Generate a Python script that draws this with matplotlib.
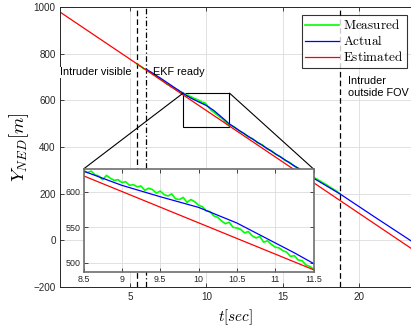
import matplotlib
matplotlib.use('Agg')
import matplotlib.pyplot as plt
import numpy as np
from mpl_toolkits.axes_grid1.inset_locator import mark_inset

plt.rcParams['font.family'] = ['Liberation Sans', 'DejaVu Sans']
plt.rcParams['mathtext.fontset'] = 'cm'

# estimated (straight line)
t_est = [0.45, 23.4]
y_est = [977, -34]

# actual
t_act = [6.05, 6.5, 7.0, 7.5, 8.0, 8.5, 9.0, 9.5, 10.0, 10.25, 10.5, 10.75,
         11.0, 11.25, 11.5, 12.5, 14.0, 15.5, 17.0, 18.75, 21.0, 23.4]
y_act = [734, 716, 695, 673, 651, 629, 609, 593, 578, 567, 556, 542,
         528, 514, 499, 456, 393, 330, 267, 199, 101, -2]

# measured (three pieces, finer sampling inside the zoom window)
t_meas_a = np.round(np.arange(5.45, 8.46, 0.15), 2)
y_meas_a = [757, 749, 744, 735, 733, 724, 720, 712, 707, 698, 694,
            685, 680, 670, 666, 658, 655, 647, 644, 636, 633]
t_meas_b = np.round(np.arange(8.5, 11.51, 0.05), 2)
y_meas_b = [630, 627, 629, 624, 622, 617, 623, 619, 616, 617,
            613, 614, 609, 610, 607, 608, 602, 605, 603, 598,
            601, 596, 594, 597, 590, 589, 592, 585, 589, 586,
            581, 579, 573, 572, 566, 564, 559, 555, 557, 550,
            549, 547, 542, 544, 538, 535, 537, 529, 531, 526,
            522, 521, 517, 515, 509, 510, 504, 503, 497, 495, 491]
t_meas_c = np.round(np.arange(11.55, 18.76, 0.3), 2)
y_meas_c = [496, 485, 469, 459, 443, 435, 418, 410, 393, 384, 368, 359, 343,
            334, 318, 309, 292, 285, 272, 262, 250, 239, 226, 214, 200]

t_meas = np.concatenate([t_meas_a, t_meas_b, t_meas_c])
y_meas = np.concatenate([y_meas_a, y_meas_b, y_meas_c])

# event times
t_visible = 5.45
t_ekf = 6.05
t_lost = 18.75

fig = plt.figure(figsize=(4.11, 3.26), dpi=100)
ax = fig.add_axes([0.1472, 0.1196, 0.8528, 0.8589])

def draw(a):
    a.plot(t_meas, y_meas, color=(0, 1, 0), lw=1.2, label=r'$\mathrm{Measured}$')
    a.plot(t_act, y_act, color=(0, 0, 1), lw=0.9, label=r'$\mathrm{Actual}$')
    a.plot(t_est, y_est, color=(1, 0, 0), lw=0.9, label=r'$\mathrm{Estimated}$')

draw(ax)
for tv, ls in [(t_visible, (0, (4.5, 2.5))), (t_ekf, (0, (4.5, 2, 1, 2))), (t_lost, (0, (4.5, 2.5)))]:
    ax.axvline(tv, color='black', lw=0.9, linestyle=ls, zorder=1)

ax.set_xlim(0.45, 23.4)
ax.set_ylim(-200, 1000)
ax.set_xticks([5, 10, 15, 20])
ax.set_yticks(np.arange(-200, 1001, 200))
ax.grid(True, color='#dcdcdc', lw=0.6)
ax.set_axisbelow(True)
ax.tick_params(direction='in', top=True, right=False, labelsize=7.1,
               colors='#262626', length=3, width=0.6)
for s in ['left', 'bottom', 'top']:
    ax.spines[s].set_color('#262626')
    ax.spines[s].set_linewidth(0.7)
ax.spines['right'].set_visible(False)

ax.set_xlabel(r'$t[sec]$', fontsize=11, labelpad=4)
ax.set_ylabel(r'$Y_{NED}[m]$', fontsize=13.5, labelpad=2)

ax.text(5.13, 721, 'Intruder visible', ha='right', va='center', fontsize=7.8,
        bbox=dict(facecolor='white', edgecolor='none', pad=0.3))
ax.text(6.5, 721, 'EKF ready', ha='left', va='center', fontsize=7.8)
ax.text(19.27, 657, 'Intruder\noutside FOV', ha='left', va='center', fontsize=7.8,
        linespacing=1.25)

leg = ax.legend(loc='upper right', bbox_to_anchor=(0.9886, 0.9714), borderaxespad=0,
                fontsize=9.5, frameon=True, fancybox=False, edgecolor='black',
                handlelength=2.6, handletextpad=0.3, labelspacing=0.15,
                borderpad=0.25)
leg.get_frame().set_linewidth(0.8)

# inset
axi = fig.add_axes([0.2032, 0.1656, 0.5596, 0.316])
axi.set_facecolor('white')
draw(axi)
axi.set_xlim(8.5, 11.5)
axi.set_ylim(487, 632)
axi.set_xticks(np.arange(8.5, 11.51, 0.5))
axi.set_xticklabels(['8.5', '9', '9.5', '10', '10.5', '11', '11.5'])
axi.set_yticks([500, 550, 600])
axi.grid(True, color='#dcdcdc', lw=0.6)
axi.set_axisbelow(True)
axi.tick_params(direction='in', top=True, right=True, labelsize=6.4,
                colors='#262626', length=3, width=0.6, pad=2)
for s in axi.spines.values():
    s.set_color('#6e6e6e')
    s.set_linewidth(1.2)

mark_inset(ax, axi, loc1=2, loc2=1, fc='none', ec='black', lw=0.8)

fig.savefig('out.png', dpi=100)
